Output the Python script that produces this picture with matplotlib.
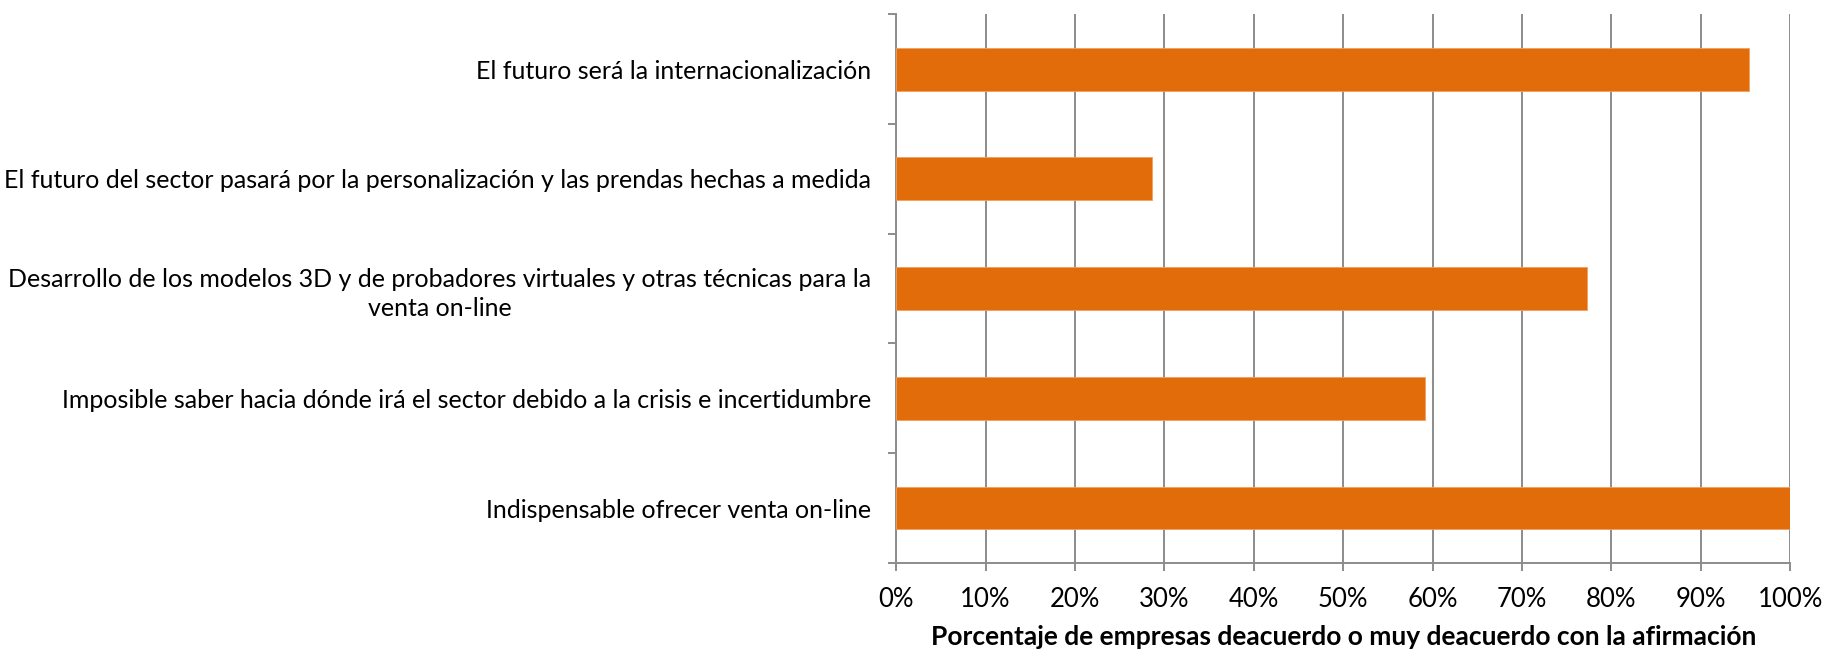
import numpy as np
import matplotlib.pyplot as plt
from matplotlib.ticker import PercentFormatter, FixedLocator

# Categories from top to bottom, as in the picture
categories = [
    'El futuro será la internacionalización',
    'El futuro del sector pasará por la personalización y las prendas hechas a medida',
    'Desarrollo de los modelos 3D y de probadores virtuales y otras técnicas para la\nventa on-line',
    'Imposible saber hacia dónde irá el sector debido a la crisis e incertidumbre',
    'Indispensable ofrecer venta on-line',
]
values = [95.4, 28.6, 77.3, 59.1, 100.0]
xticks = np.arange(0, 101, 10)
xlabel = 'Porcentaje de empresas deacuerdo o muy deacuerdo con la afirmación'

plt.rcParams['font.family'] = ['Lato', 'DejaVu Sans']

fig = plt.figure(figsize=(18.25, 6.5), dpi=100)
ax = fig.add_axes([0.491, 0.134, 0.490, 0.844])

pos = np.arange(len(categories))
ax.barh(pos, values, height=0.39, color='#E36C0A', edgecolor='#F0A060',
        linewidth=0.6, zorder=3)

ax.set_xlim(0, 100)
ax.set_ylim(len(categories) - 0.5, -0.5)

ax.set_xticks(xticks)
ax.xaxis.set_major_formatter(PercentFormatter(decimals=0))
ax.set_yticks(pos)
ax.set_yticklabels(categories)
for lab in ax.get_yticklabels():
    lab.set_multialignment('center')
    lab.set_linespacing(1.35)
ax.yaxis.set_minor_locator(FixedLocator(np.arange(-0.5, len(categories), 1)))

ax.grid(axis='x', color='#8c8c8c', linewidth=1.4, zorder=0)
ax.set_axisbelow(True)

for s in ['top', 'right']:
    ax.spines[s].set_visible(False)
for s in ['left', 'bottom']:
    ax.spines[s].set_color('#8c8c8c')
    ax.spines[s].set_linewidth(1.4)

ax.tick_params(axis='y', which='major', length=0, pad=18, labelsize=18)
ax.tick_params(axis='y', which='minor', length=6, width=1.4, color='#8c8c8c')
ax.tick_params(axis='x', length=6, width=1.4, color='#8c8c8c', pad=11,
               labelsize=18.5)

ax.set_xlabel(xlabel, fontsize=19, fontweight='bold', labelpad=10)

fig.savefig('out.png', dpi=100, facecolor='white')
